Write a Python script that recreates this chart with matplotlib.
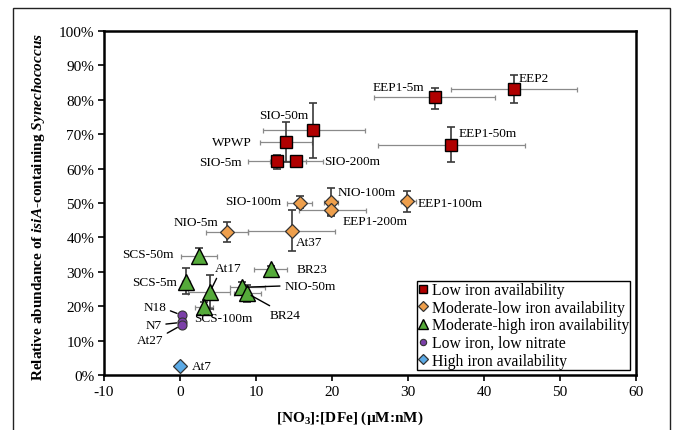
import matplotlib
matplotlib.use("Agg")
import matplotlib.pyplot as plt
from matplotlib.patches import Rectangle

plt.rcParams['font.family'] = ['Liberation Serif', 'DejaVu Serif']
plt.rcParams['mathtext.fontset'] = 'custom'
plt.rcParams['mathtext.rm'] = 'Liberation Serif:bold'
plt.rcParams['mathtext.it'] = 'Liberation Serif:italic:bold'
plt.rcParams['mathtext.bf'] = 'Liberation Serif:bold'
plt.rcParams['axes.unicode_minus'] = False

# ---------------- data ----------------
low_labels = ['EEP2', 'EEP1-5m', 'EEP1-50m', 'SIO-50m', 'WPWP', 'SIO-5m', 'SIO-200m']
low_x = [43.9, 33.5, 35.7, 17.5, 13.9, 12.8, 15.3]
low_y = [83.1, 80.7, 66.9, 71.2, 67.8, 62.1, 62.1]
low_xlo = [35.7, 25.5, 26.0, 10.9, 10.5, 9.0, 11.8]
low_xhi = [52.2, 41.5, 45.4, 24.3, 17.4, 16.6, 18.8]
low_ylo = [79.1, 77.3, 61.9, 63.2, 61.8, 59.9, 61.6]
low_yhi = [87.2, 83.4, 72.0, 79.2, 73.6, 63.9, 62.6]

modlow_labels = ['SIO-100m', 'NIO-100m', 'EEP1-200m', 'EEP1-100m', 'NIO-5m', 'At37']
modlow_x = [15.85, 19.9, 19.9, 29.9, 6.2, 14.7]
modlow_y = [50.0, 50.4, 48.1, 50.7, 41.5, 42.0]
modlow_xlo = [14.1, 19.0, 15.6, 29.1, 3.4, 9.0]
modlow_xhi = [17.4, 20.8, 24.5, 31.0, 9.0, 20.4]
modlow_ylo = [48.5, 46.5, 46.3, 47.3, 38.6, 36.1]
modlow_yhi = [52.1, 54.3, 49.9, 53.6, 44.6, 48.1]

modhigh_labels = ['SCS-50m', 'SCS-5m', 'At17', 'SCS-100m', 'BR23', 'NIO-50m', 'BR24']
modhigh_x = [2.5, 0.8, 3.9, 3.15, 12.0, 8.2, 8.8]
modhigh_y = [34.7, 27.1, 24.0, 19.7, 30.8, 25.5, 23.8]
modhigh_xlo = [0.1, 0.3, 1.1, 2.0, 9.7, 6.6, 7.1]
modhigh_xhi = [4.9, 1.3, 6.6, 4.4, 14.1, 11.2, 10.6]
modhigh_ylo = [33.5, 23.5, 19.3, 18.3, 29.8, 24.3, 21.3]
modhigh_yhi = [36.8, 31.2, 29.1, 21.1, 31.8, 27.1, 26.2]

lln_labels = ['N18', 'N7', 'At27']
lln_x = [0.2, 0.2, 0.2]
lln_y = [17.4, 15.3, 14.5]

high_labels = ['At7']
high_x = [0.0]
high_y = [2.7]

group_names = ['Low iron availability', 'Moderate-low iron availability',
               'Moderate-high iron availability', 'Low iron, low nitrate',
               'High iron availability']

x_ticks = [-10, 0, 10, 20, 30, 40, 50, 60]
y_ticks = [0, 10, 20, 30, 40, 50, 60, 70, 80, 90, 100]
y_ticklabels = ['0%', '10%', '20%', '30%', '40%', '50%', '60%', '70%', '80%', '90%', '100%']

# label placement (data coords): x, y, ha, leader relpos or None
label_pos = {
    'EEP2': (44.5, 86.3, 'left', None),
    'EEP1-5m': (28.8, 83.6, 'center', None),
    'EEP1-50m': (36.6, 70.3, 'left', None),
    'SIO-50m': (13.7, 75.7, 'center', None),
    'WPWP': (9.45, 67.8, 'right', None),
    'SIO-5m': (8.1, 62.0, 'right', None),
    'SIO-200m': (19.0, 62.3, 'left', None),
    'SIO-100m': (13.3, 50.7, 'right', None),
    'NIO-100m': (20.7, 53.2, 'left', None),
    'EEP1-200m': (21.4, 44.8, 'left', None),
    'EEP1-100m': (31.2, 50.0, 'left', None),
    'NIO-5m': (5.0, 44.6, 'right', None),
    'At37': (15.2, 38.75, 'left', None),
    'SCS-50m': (-0.8, 35.2, 'right', None),
    'SCS-5m': (-0.4, 27.0, 'right', None),
    'At17': (6.3, 31.0, 'center', (0.15, 0.0)),
    'BR23': (15.4, 30.8, 'left', None),
    'NIO-50m': (13.7, 25.9, 'left', (0.0, 0.5)),
    'BR24': (11.8, 17.4, 'left', (0.2, 1.0)),
    'SCS-100m': (1.8, 16.6, 'left', None),
    'N18': (-1.8, 19.8, 'right', (1.0, 0.3)),
    'N7': (-2.4, 14.5, 'right', (1.0, 0.55)),
    'At27': (-2.2, 10.3, 'right', (1.0, 0.85)),
    'At7': (1.55, 2.7, 'left', None),
}

# ---------------- figure ----------------
fig = plt.figure(figsize=(6.73, 4.31), dpi=100)
ax = fig.add_axes([104 / 673, 55 / 431, 532 / 673, 344 / 431])

xerr_kw = dict(fmt='none', ecolor='#8a8a8a', elinewidth=0.9, capsize=1.8, capthick=0.9, zorder=2)
yerr_kw = dict(fmt='none', ecolor='#3a3a3a', elinewidth=1.2, capsize=3.0, capthick=1.2, zorder=2.5)


def draw_err(xs, ys, xlo, xhi, ylo, yhi):
    ax.errorbar(xs, ys, xerr=[[x - a for x, a in zip(xs, xlo)], [b - x for x, b in zip(xs, xhi)]], **xerr_kw)
    ax.errorbar(xs, ys, yerr=[[y - a for y, a in zip(ys, ylo)], [b - y for y, b in zip(ys, yhi)]], **yerr_kw)


draw_err(low_x, low_y, low_xlo, low_xhi, low_ylo, low_yhi)
draw_err(modlow_x, modlow_y, modlow_xlo, modlow_xhi, modlow_ylo, modlow_yhi)
draw_err(modhigh_x, modhigh_y, modhigh_xlo, modhigh_xhi, modhigh_ylo, modhigh_yhi)

h1, = ax.plot(low_x, low_y, ls='none', marker='s', ms=8.5, mfc='#B00000', mec='black', mew=1.0, zorder=4)
h2, = ax.plot(modlow_x, modlow_y, ls='none', marker='D', ms=7.5, mfc='#EE9F4C', mec='#333333', mew=0.9, zorder=4)
h3, = ax.plot(modhigh_x, modhigh_y, ls='none', marker='^', ms=11, mfc='#55AA3A', mec='black', mew=1.0, zorder=4)
h4, = ax.plot(lln_x, lln_y, ls='none', marker='o', ms=6.5, mfc='#7B3FA8', mec='#333333', mew=0.8, zorder=4)
h5, = ax.plot(high_x, high_y, ls='none', marker='D', ms=7.5, mfc='#5BAAE6', mec='#333333', mew=0.9, zorder=4)

all_labels = low_labels + modlow_labels + modhigh_labels + lln_labels + high_labels
all_x = low_x + modlow_x + modhigh_x + lln_x + high_x
all_y = low_y + modlow_y + modhigh_y + lln_y + high_y

for lab, px, py in zip(all_labels, all_x, all_y):
    tx, ty, ha, rel = label_pos[lab]
    if rel is None:
        ax.text(tx, ty, lab, ha=ha, va='center', fontsize=9.5, zorder=5)
    else:
        ax.annotate(lab, xy=(px, py), xytext=(tx, ty), ha=ha, va='center', fontsize=9.5, zorder=5,
                    arrowprops=dict(arrowstyle='-', color='black', lw=1.0, relpos=rel,
                                    shrinkA=1, shrinkB=3.5))

ax.set_xlim(-10, 60)
ax.set_ylim(0, 100)
ax.set_xticks(x_ticks)
ax.set_xticklabels([str(t) for t in x_ticks])
ax.set_yticks(y_ticks)
ax.set_yticklabels(y_ticklabels)
ax.tick_params(axis='both', direction='out', length=4, width=1.2, labelsize=11, pad=3)
for s in ax.spines.values():
    s.set_linewidth(1.8)
    s.set_color('black')

leg = ax.legend([h1, h2, h3, h4, h5], group_names, loc='lower right',
                bbox_to_anchor=(0.989, 0.015), borderaxespad=0, fontsize=11.3,
                frameon=True, fancybox=False, edgecolor='black', framealpha=1,
                handlelength=0.6, handletextpad=0.25, labelspacing=0.1,
                borderpad=0.08, markerscale=0.7)
leg.get_frame().set_linewidth(1.0)

fig.text(350 / 673, 1 - 418 / 431, '[NO$_3$]:[DFe] (µM:nM)', ha='center', va='center',
         fontsize=11, fontweight='bold')
fig.text(39 / 673, 1 - 207 / 431,
         r'Relative abundance of $\mathit{isiA}$-containing $\mathit{Synechococcus}$',
         ha='center', va='center', rotation=90, fontsize=11, fontweight='bold')

fig.add_artist(Rectangle((13 / 673, -0.05), (670 - 13) / 673, (431 - 9) / 431 + 0.05,
                         transform=fig.transFigure, fill=False, lw=1.0, ec='#222222'))

fig.savefig('out.png', dpi=100)
